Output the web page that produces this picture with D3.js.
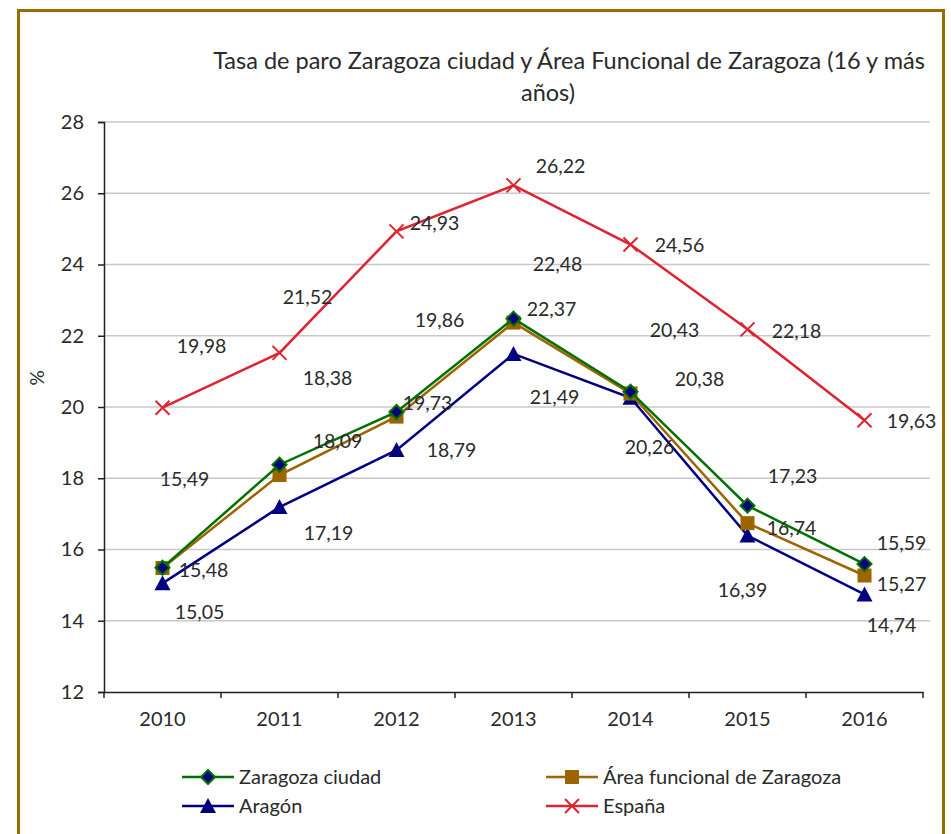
<!DOCTYPE html>
<html>
<head>
<meta charset="utf-8">
<script src="https://cdn.jsdelivr.net/npm/d3@7"></script>
<style>
  body { margin: 0; background: #fff; }
  text { font-family: Lato, "Open Sans", sans-serif; fill: #2a2a2a; }
</style>
</head>
<body>
<svg id="chart" width="951" height="834"></svg>
<script>
// Tasa de paro
var years = ["2010", "2011", "2012", "2013", "2014", "2015", "2016"];
var zaragozaCiudad = [15.49, 18.38, 19.86, 22.48, 20.43, 17.23, 15.59];
var areaFuncional = [15.48, 18.09, 19.73, 22.37, 20.38, 16.74, 15.27];
var aragon = [15.05, 17.19, 18.79, 21.49, 20.26, 16.39, 14.74];
var espana = [19.98, 21.52, 24.93, 26.22, 24.56, 22.18, 19.63];
var yTicks = [12, 14, 16, 18, 20, 22, 24, 26, 28];

// label offsets (px) from each point, like the Excel data labels
var labelOffsets = {
  ciudad: [[22, -88], [48, -87], [43, -92], [44, -54], [44, -62], [45, -30], [37, -21]],
  area: [[41, 2], [58, -34], [31, -13], [38, -13], [69, -14], [44, 5], [37, 9]],
  aragon: [[37, 29], [49, 26], [55, 0], [41, 43], [19, 49], [-5, 55], [27, 31]],
  espana: [[39, -62], [28, -56], [38, -8], [47, -19], [49, 1], [49, 2], [47, 1]]
};

var series = [
  { key: "ciudad", name: "Zaragoza ciudad", values: zaragozaCiudad, color: "#007000", marker: "diamond" },
  { key: "area", name: "Área funcional de Zaragoza", values: areaFuncional, color: "#9c6500", marker: "square" },
  { key: "aragon", name: "Aragón", values: aragon, color: "#000080", marker: "triangle" },
  { key: "espana", name: "España", values: espana, color: "#dc2530", marker: "cross" }
];

var svg = d3.select("#chart");

// outer frame
svg.append("rect")
  .attr("x", 18.5).attr("y", 10.5)
  .attr("width", 925).attr("height", 840)
  .attr("fill", "none")
  .attr("stroke", "#9c6b00")
  .attr("stroke-width", 3);

// title
var title = svg.append("text")
  .attr("text-anchor", "middle")
  .style("font-size", "23.5px");
title.append("tspan").attr("x", 569).attr("y", 69)
  .text("Tasa de paro Zaragoza ciudad y Área Funcional de Zaragoza (16 y más");
title.append("tspan").attr("x", 548).attr("y", 101).text("años)");

var x = d3.scaleBand().domain(years).range([104, 923]);
var y = d3.scaleLinear().domain([12, 28]).range([692, 122]);
var cx = function(i) { return x(years[i]) + x.bandwidth() / 2; };

// gridlines
svg.append("g")
  .selectAll("line")
  .data(yTicks.slice(1))
  .join("line")
  .attr("x1", 104).attr("x2", 930)
  .attr("y1", function(d) { return y(d); })
  .attr("y2", function(d) { return y(d); })
  .attr("stroke", "#c8c8c8")
  .attr("stroke-width", 1.5);

// y axis
var yAxis = svg.append("g")
  .attr("transform", "translate(104,0)")
  .call(d3.axisLeft(y).tickValues(yTicks).tickSize(6).tickPadding(14));
yAxis.select(".domain").attr("stroke", "#222").attr("stroke-width", 1.5);
yAxis.selectAll(".tick line").attr("stroke", "#222").attr("stroke-width", 1.5);
yAxis.selectAll("text").style("font-size", "20px").attr("fill", "#2a2a2a");

// x axis
var xAxis = svg.append("g")
  .attr("transform", "translate(0,692)")
  .call(d3.axisBottom(x).tickSize(0).tickPadding(20));
xAxis.select(".domain").attr("stroke", "#222").attr("stroke-width", 1.5);
xAxis.selectAll("text").style("font-size", "20px").attr("fill", "#2a2a2a");
xAxis.selectAll(".sep")
  .data(d3.range(years.length + 1))
  .join("line")
  .attr("class", "sep")
  .attr("x1", function(i) { return 104 + i * x.bandwidth(); })
  .attr("x2", function(i) { return 104 + i * x.bandwidth(); })
  .attr("y1", 0).attr("y2", 6)
  .attr("stroke", "#222").attr("stroke-width", 1.5);

// axis title
svg.append("text")
  .attr("transform", "translate(44,378) rotate(-90)")
  .attr("text-anchor", "middle")
  .style("font-size", "19px")
  .text("%");

function drawMarker(g, type, color, px, py, s) {
  if (type === "diamond") {
    g.append("path")
      .attr("d", "M" + px + "," + (py - s) + "L" + (px + s) + "," + py + "L" + px + "," + (py + s) + "L" + (px - s) + "," + py + "Z")
      .attr("fill", "#000080").attr("stroke", color).attr("stroke-width", 2);
  } else if (type === "square") {
    g.append("rect")
      .attr("x", px - s).attr("y", py - s)
      .attr("width", 2 * s).attr("height", 2 * s)
      .attr("fill", color);
  } else if (type === "triangle") {
    g.append("path")
      .attr("d", "M" + px + "," + (py - s - 1) + "L" + (px + s + 1) + "," + (py + s) + "L" + (px - s - 1) + "," + (py + s) + "Z")
      .attr("fill", color);
  } else {
    g.append("path")
      .attr("d", "M" + (px - s) + "," + (py - s) + "L" + (px + s) + "," + (py + s) + "M" + (px + s) + "," + (py - s) + "L" + (px - s) + "," + (py + s))
      .attr("stroke", color).attr("stroke-width", 2).attr("fill", "none");
  }
}

var line = d3.line()
  .x(function(d, i) { return cx(i); })
  .y(function(d) { return y(d); });

// draw España and Aragón first, then the two Zaragoza series on top
var order = [series[3], series[2], series[1], series[0]];
order.forEach(function(s) {
  var g = svg.append("g");
  g.append("path")
    .datum(s.values)
    .attr("d", line)
    .attr("fill", "none")
    .attr("stroke", s.color)
    .attr("stroke-width", 2.5);
  s.values.forEach(function(v, i) {
    drawMarker(g, s.marker, s.color, cx(i), y(v), 7);
  });
});

// data labels
series.forEach(function(s) {
  svg.append("g")
    .selectAll("text")
    .data(s.values)
    .join("text")
    .attr("x", function(d, i) { return cx(i) + labelOffsets[s.key][i][0]; })
    .attr("y", function(d, i) { return y(d) + labelOffsets[s.key][i][1]; })
    .attr("dy", "0.35em")
    .attr("text-anchor", "middle")
    .style("font-size", "19.5px")
    .text(function(d) { return d3.format(".2f")(d).replace(".", ","); });
});

// legend
var legendPos = [[182, 777], [546, 777], [182, 806], [546, 806]];
series.forEach(function(s, i) {
  var lx = legendPos[i][0], ly = legendPos[i][1];
  var g = svg.append("g");
  g.append("line")
    .attr("x1", lx).attr("x2", lx + 52)
    .attr("y1", ly).attr("y2", ly)
    .attr("stroke", s.color).attr("stroke-width", 2.5);
  drawMarker(g, s.marker, s.color, lx + 26, ly, 7);
  g.append("text")
    .attr("x", lx + 57).attr("y", ly)
    .attr("dy", "0.35em")
    .style("font-size", "20px")
    .text(s.name);
});
</script>
</body>
</html>
